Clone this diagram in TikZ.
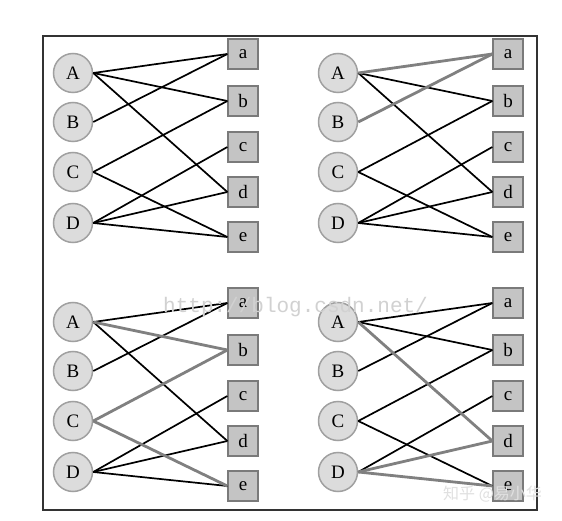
\documentclass[tikz,border=0pt]{standalone}
\usepackage{fontspec}
\setmainfont{Liberation Serif}
\newfontfamily\wmmono{Liberation Mono}
\newfontfamily\cjk{Noto Sans CJK SC}
\definecolor{circfill}{HTML}{DCDCDC}
\definecolor{circdraw}{HTML}{A0A0A0}
\definecolor{boxfill}{HTML}{C4C4C4}
\definecolor{boxdraw}{HTML}{7A7A7A}
\definecolor{hl}{HTML}{808080}
\tikzset{
  lnode/.style={circle, fill=circfill, draw=circdraw, line width=1.5pt, minimum size=39pt, inner sep=0pt, font=\fontsize{19}{19}\selectfont},
  rnode/.style={rectangle, fill=boxfill, draw=boxdraw, line width=1.3pt, minimum size=30pt, inner sep=0pt, font=\fontsize{19}{19}\selectfont},
  blk/.style={draw=black, line width=1.7pt},
  gry/.style={draw=hl, line width=2.8pt},
  frame/.style={draw=black!80, line width=1.2pt},
  wm/.style={text=black!18, inner sep=0pt}
}
\newcommand\mypanel[4]{%
\begin{scope}[shift={(#1,#2)}]
 \foreach \n/\yy in {A/73,B/122,C/172,D/223} \node[lnode] (#3\n) at (73,\yy) {\n};
 \foreach \n/\yy in {a/54,b/101,c/147,d/192,e/237} \node[rnode] (#3\n) at (243,\yy) {\n};
 \foreach \s/\t/\st in {#4} \draw[\st] (#3\s.east) -- (#3\t.west);
\end{scope}}
\begin{document}
\begin{tikzpicture}[x=1pt,y=-1pt]
\useasboundingbox (0,0) rectangle (562,521);
\fill[white] (0,0) rectangle (562,521);
\draw[frame] (43,36) rectangle (537,510);
\mypanel{0}{0}{p}{A/a/blk,A/b/blk,A/d/blk,B/a/blk,C/b/blk,C/e/blk,D/c/blk,D/d/blk,D/e/blk}
\mypanel{265}{0}{q}{A/b/blk,A/d/blk,C/b/blk,C/e/blk,D/c/blk,D/d/blk,D/e/blk,A/a/gry,B/a/gry}
\mypanel{0}{249}{r}{A/a/blk,A/d/blk,B/a/blk,D/c/blk,D/d/blk,D/e/blk,A/b/gry,C/b/gry,C/e/gry}
\mypanel{265}{249}{s}{A/a/blk,A/b/blk,B/a/blk,C/b/blk,C/e/blk,D/c/blk,A/d/gry,D/d/gry,D/e/gry}
\node[wm, font=\wmmono\fontsize{21}{21}\selectfont, anchor=west] (wm1) at (163,307) {http://blog.csdn.net/};
\node[wm, text=black!12, font=\cjk\fontsize{16}{16}\selectfont, anchor=west] (wm2) at (443,494) {知乎 @易小华};
\end{tikzpicture}
\end{document}
